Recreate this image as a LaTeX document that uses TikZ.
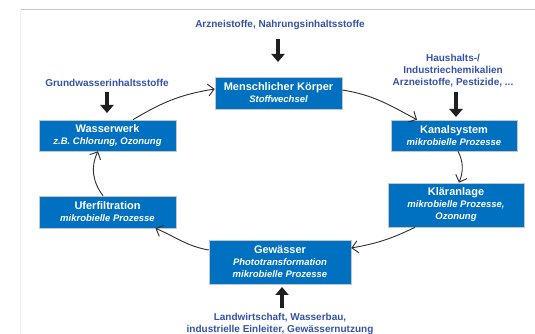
\documentclass[tikz,border=0pt]{standalone}
\usepackage{fontspec}
\setmainfont{Liberation Sans}
\usetikzlibrary{arrows.meta,calc}
\definecolor{boxblue}{RGB}{0,112,192}
\definecolor{lblblue}{RGB}{52,82,168}
\definecolor{linegray}{RGB}{45,45,45}
\newcommand\boxtitle{\fontsize{11}{11.5}\selectfont\bfseries}
\newcommand\boxsub{\fontsize{9.5}{11.5}\selectfont\bfseries\itshape}
\newcommand\lblfont{\fontsize{10}{12}\selectfont\bfseries}
\begin{document}
\begin{tikzpicture}[x=1pt,y=1pt,
  procbox/.style={rectangle, fill=boxblue, draw=gray!45, line width=0.6pt, text=white, align=center, inner sep=0pt},
  lbl/.style={text=lblblue, align=center, font=\lblfont, inner sep=0pt},
  blockarrow/.style={line width=4.6pt, black!88, -{Triangle[width=13pt,length=8pt]}},
  flow/.style={linegray, line width=0.9pt, -{Straight Barb[length=6pt,width=12pt]}}]
\useasboundingbox (0,0) rectangle (535,334);
% screenshot frame
\draw[gray!45, line width=0.8pt] (20,325) -- (535,325);
\draw[gray!12, line width=0.8pt] (20,325) -- (20,0);

% process boxes
\node[procbox, minimum width=127pt, minimum height=32pt] (mensch) at (278.5,241)
  {{\boxtitle Menschlicher Körper}\\{\boxsub Stoffwechsel}};
\node[procbox, minimum width=126pt, minimum height=31pt] (kanal) at (454,198.5)
  {{\boxtitle Kanalsystem}\\{\boxsub mikrobielle Prozesse}};
\node[procbox, minimum width=136pt, minimum height=44pt] (klaer) at (456,129)
  {{\boxtitle Kläranlage}\\{\boxsub mikrobielle Prozesse,}\\{\boxsub Ozonung}};
\node[procbox, minimum width=142pt, minimum height=44pt] (gew) at (280,72)
  {{\boxtitle Gewässer}\\{\boxsub Phototransformation}\\{\boxsub mikrobielle Prozesse}};
\node[procbox, minimum width=137pt, minimum height=32pt] (ufer) at (107.5,122)
  {{\boxtitle Uferfiltration}\\{\boxsub mikrobielle Prozesse}};
\node[procbox, minimum width=137pt, minimum height=31pt] (wasser) at (107.5,198.5)
  {{\boxtitle Wasserwerk}\\{\boxsub z.B. Chlorung, Ozonung}};

% input labels
\node[lbl] (lbltop) at (280,309) {Arzneistoffe, Nahrungsinhaltsstoffe};
\node[lbl] (lblhaus) at (453,263) {Haushalts-/\\Industriechemikalien\\Arzneistoffe, Pestizide, ...};
\node[lbl] (lblgrund) at (107,251) {Grundwasserinhaltsstoffe};
\node[lbl] (lblland) at (280,10.5) {Landwirtschaft, Wasserbau,\\industrielle Einleiter, Gewässernutzung};

% input arrows
\coordinate (ta1) at (278,295); \coordinate (ta2) at (278,272);
\draw[blockarrow] (ta1) -- (ta2);
\coordinate (ha1) at (456,242); \coordinate (ha2) at (456,217);
\draw[blockarrow] (ha1) -- (ha2);
\coordinate (ga1) at (107,242); \coordinate (ga2) at (107,221);
\draw[blockarrow] (ga1) -- (ga2);
\coordinate (la1) at (282,26); \coordinate (la2) at (282,47);
\draw[blockarrow] (la1) -- (la2);

% cycle
\draw[flow] ($(mensch.east)+(0,3)$) to[out=-9,in=152] ($(kanal.north)+(-37,0)$);
\draw[flow] ($(kanal.south)+(4,0)$) to[out=-63,in=69] ($(klaer.north)+(3,0)$);
\draw[flow] ($(klaer.south)+(-41,0)$) to[out=-154,in=10] ($(gew.east)+(0,14)$);
\draw[flow] ($(gew.west)+(0,12)$) to[out=170,in=-23] ($(ufer.south)+(48,0)$);
\draw[flow] ($(ufer.north)+(-4.5,0)$) to[out=127,in=-116] ($(wasser.south)+(-9.5,0)$);
\draw[flow] ($(wasser.north)+(25.5,0)$) to[out=31,in=-171] ($(mensch.west)+(0,4)$);
\end{tikzpicture}
\end{document}
